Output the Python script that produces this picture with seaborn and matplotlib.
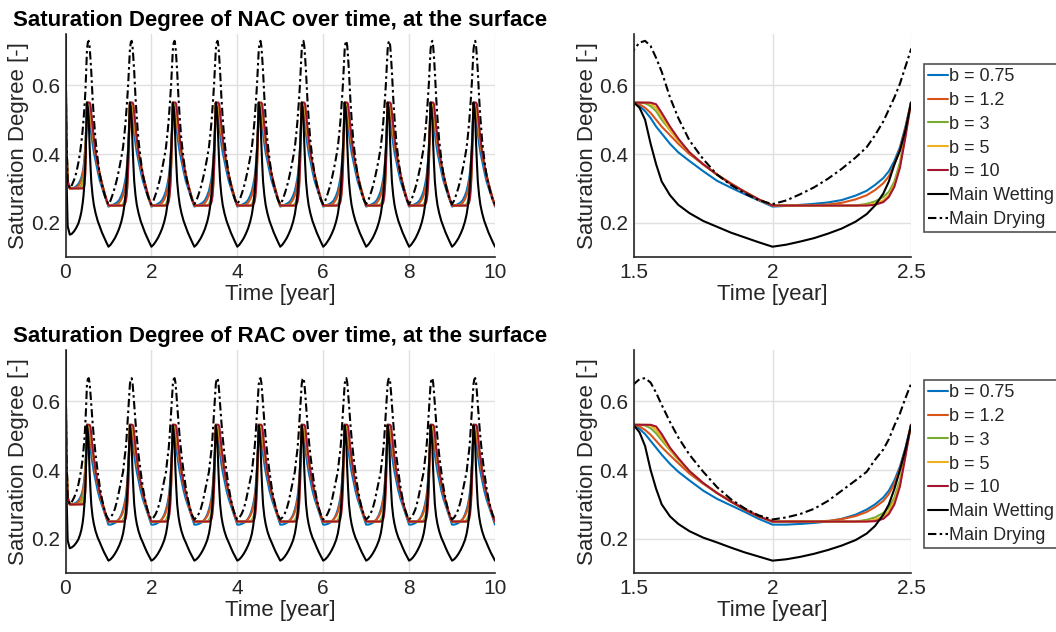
import numpy as np
import pandas as pd
import matplotlib
matplotlib.use("Agg")
import matplotlib.pyplot as plt
import seaborn as sns

# ---------------- data ----------------
series_labels = ["b = 0.75", "b = 1.2", "b = 3", "b = 5", "b = 10", "Main Wetting", "Main Drying"]
series_colors = ["#0072BD", "#D95319", "#77AC30", "#EDB120", "#A2142F", "#000000", "#000000"]

# first half year (t = 0 .. 0.5), initial transient
first_t = [0, 0.02, 0.05, 0.1, 0.15, 0.2, 0.25, 0.3, 0.34, 0.37, 0.4, 0.42, 0.44, 0.46, 0.48]

nac_first_b075 = [0.75, 0.45, 0.32, 0.30, 0.30, 0.302, 0.306, 0.313, 0.322, 0.332, 0.347, 0.362, 0.385, 0.42, 0.475]
nac_first_b12 = [0.75, 0.45, 0.32, 0.30, 0.30, 0.30, 0.302, 0.307, 0.315, 0.325, 0.34, 0.355, 0.38, 0.415, 0.47]
nac_first_b3 = [0.75, 0.45, 0.32, 0.30, 0.30, 0.30, 0.30, 0.30, 0.303, 0.308, 0.318, 0.33, 0.355, 0.395, 0.46]
nac_first_b5 = [0.75, 0.45, 0.32, 0.30, 0.30, 0.30, 0.30, 0.30, 0.30, 0.301, 0.305, 0.313, 0.325, 0.35, 0.455]
nac_first_b10 = [0.75, 0.45, 0.32, 0.30, 0.30, 0.30, 0.30, 0.30, 0.30, 0.30, 0.30, 0.302, 0.31, 0.34, 0.45]
nac_first_wet = [0.75, 0.35, 0.19, 0.165, 0.168, 0.175, 0.185, 0.198, 0.215, 0.232, 0.257, 0.28, 0.315, 0.37, 0.45]
nac_first_dry = [0.75, 0.45, 0.32, 0.30, 0.31, 0.325, 0.345, 0.375, 0.405, 0.435, 0.47, 0.50, 0.535, 0.575, 0.635]

rac_first_b075 = [0.75, 0.45, 0.32, 0.30, 0.30, 0.302, 0.305, 0.311, 0.319, 0.328, 0.341, 0.355, 0.375, 0.405, 0.455]
rac_first_b12 = [0.75, 0.45, 0.32, 0.30, 0.30, 0.30, 0.302, 0.306, 0.313, 0.322, 0.336, 0.35, 0.372, 0.402, 0.452]
rac_first_b3 = [0.75, 0.45, 0.32, 0.30, 0.30, 0.30, 0.30, 0.30, 0.302, 0.307, 0.316, 0.328, 0.35, 0.385, 0.445]
rac_first_b5 = [0.75, 0.45, 0.32, 0.30, 0.30, 0.30, 0.30, 0.30, 0.30, 0.30, 0.303, 0.31, 0.322, 0.345, 0.44]
rac_first_b10 = [0.75, 0.45, 0.32, 0.30, 0.30, 0.30, 0.30, 0.30, 0.30, 0.30, 0.30, 0.301, 0.307, 0.335, 0.435]
rac_first_wet = [0.75, 0.35, 0.195, 0.172, 0.175, 0.18, 0.188, 0.198, 0.212, 0.226, 0.247, 0.268, 0.30, 0.345, 0.42]
rac_first_dry = [0.75, 0.45, 0.32, 0.30, 0.308, 0.32, 0.335, 0.358, 0.383, 0.405, 0.435, 0.46, 0.49, 0.53, 0.585]

# one yearly cycle, offsets measured from the peak at t = k + 0.5 (read on the 1.5..2.5 panels)
cycle_offset = [0, 0.02, 0.04, 0.06, 0.08, 0.1, 0.13, 0.16, 0.2, 0.25, 0.3, 0.35, 0.4, 0.45, 0.5,
                0.55, 0.6, 0.65, 0.7, 0.75, 0.8, 0.84, 0.87, 0.9, 0.92, 0.94, 0.96, 0.98, 1.0]

nac_cycle_b075 = [0.55, 0.54, 0.525, 0.505, 0.48, 0.46, 0.43, 0.405, 0.38, 0.35, 0.322, 0.302, 0.283, 0.265, 0.247,
                  0.249, 0.252, 0.255, 0.259, 0.266, 0.279, 0.293, 0.31, 0.33, 0.35, 0.38, 0.42, 0.48, 0.55]
nac_cycle_b12 = [0.55, 0.545, 0.535, 0.52, 0.50, 0.48, 0.455, 0.43, 0.40, 0.37, 0.34, 0.315, 0.29, 0.268, 0.25,
                 0.25, 0.25, 0.251, 0.253, 0.258, 0.268, 0.28, 0.295, 0.315, 0.335, 0.37, 0.415, 0.475, 0.55]
nac_cycle_b3 = [0.55, 0.55, 0.548, 0.54, 0.525, 0.50, 0.47, 0.44, 0.405, 0.37, 0.34, 0.313, 0.29, 0.268, 0.25,
                0.25, 0.25, 0.25, 0.25, 0.25, 0.25, 0.255, 0.262, 0.275, 0.29, 0.32, 0.375, 0.46, 0.55]
nac_cycle_b5 = [0.55, 0.55, 0.55, 0.547, 0.535, 0.51, 0.47, 0.44, 0.405, 0.37, 0.34, 0.313, 0.29, 0.268, 0.25,
                0.25, 0.25, 0.25, 0.25, 0.25, 0.25, 0.251, 0.256, 0.265, 0.28, 0.31, 0.365, 0.455, 0.55]
nac_cycle_b10 = [0.55, 0.55, 0.55, 0.55, 0.545, 0.52, 0.48, 0.445, 0.405, 0.37, 0.34, 0.313, 0.29, 0.268, 0.25,
                 0.25, 0.25, 0.25, 0.25, 0.25, 0.25, 0.25, 0.252, 0.26, 0.275, 0.305, 0.36, 0.45, 0.55]
nac_cycle_wet = [0.55, 0.535, 0.50, 0.43, 0.37, 0.32, 0.28, 0.252, 0.228, 0.205, 0.188, 0.171, 0.157, 0.143, 0.13,
                 0.136, 0.145, 0.155, 0.168, 0.183, 0.203, 0.225, 0.25, 0.285, 0.32, 0.37, 0.41, 0.47, 0.55]
nac_cycle_dry = [0.705, 0.725, 0.73, 0.715, 0.68, 0.64, 0.565, 0.505, 0.44, 0.385, 0.34, 0.31, 0.285, 0.266, 0.254,
                 0.265, 0.283, 0.303, 0.328, 0.357, 0.39, 0.42, 0.455, 0.495, 0.53, 0.565, 0.605, 0.655, 0.705]

rac_cycle_b075 = [0.532, 0.52, 0.505, 0.485, 0.465, 0.445, 0.418, 0.395, 0.37, 0.34, 0.316, 0.297, 0.278, 0.258, 0.241,
                  0.241, 0.243, 0.246, 0.25, 0.258, 0.27, 0.285, 0.30, 0.32, 0.34, 0.37, 0.41, 0.465, 0.532]
rac_cycle_b12 = [0.532, 0.527, 0.517, 0.503, 0.485, 0.467, 0.443, 0.42, 0.39, 0.36, 0.333, 0.31, 0.287, 0.266, 0.249,
                 0.25, 0.25, 0.25, 0.252, 0.257, 0.266, 0.278, 0.292, 0.31, 0.33, 0.36, 0.405, 0.46, 0.532]
rac_cycle_b3 = [0.532, 0.532, 0.53, 0.522, 0.507, 0.487, 0.458, 0.43, 0.397, 0.362, 0.333, 0.308, 0.285, 0.265, 0.25,
                0.25, 0.25, 0.25, 0.25, 0.25, 0.25, 0.255, 0.262, 0.275, 0.29, 0.32, 0.37, 0.45, 0.532]
rac_cycle_b5 = [0.532, 0.532, 0.532, 0.53, 0.517, 0.495, 0.46, 0.432, 0.397, 0.362, 0.333, 0.308, 0.285, 0.265, 0.25,
                0.25, 0.25, 0.25, 0.25, 0.25, 0.25, 0.251, 0.255, 0.265, 0.28, 0.31, 0.36, 0.445, 0.532]
rac_cycle_b10 = [0.532, 0.532, 0.532, 0.532, 0.527, 0.505, 0.465, 0.435, 0.397, 0.362, 0.333, 0.308, 0.285, 0.265, 0.25,
                 0.25, 0.25, 0.25, 0.25, 0.25, 0.25, 0.25, 0.251, 0.258, 0.272, 0.30, 0.352, 0.44, 0.532]
rac_cycle_wet = [0.53, 0.51, 0.47, 0.40, 0.345, 0.30, 0.265, 0.243, 0.222, 0.203, 0.189, 0.174, 0.16, 0.148, 0.136,
                 0.14, 0.147, 0.156, 0.167, 0.18, 0.196, 0.215, 0.237, 0.27, 0.30, 0.345, 0.40, 0.46, 0.53]
rac_cycle_dry = [0.651, 0.665, 0.668, 0.655, 0.625, 0.59, 0.54, 0.495, 0.445, 0.395, 0.35, 0.315, 0.288, 0.268, 0.256,
                 0.262, 0.272, 0.287, 0.31, 0.34, 0.37, 0.395, 0.43, 0.46, 0.49, 0.53, 0.565, 0.61, 0.653]

n_years = 10
x_ticks_full = [0, 2, 4, 6, 8, 10]
x_ticks_zoom = [1.5, 2, 2.5]
y_ticks = [0.2, 0.4, 0.6]
titles = ["Saturation Degree of NAC over time, at the surface",
          "Saturation Degree of RAC over time, at the surface"]


def build_series(first_vals, cycle_vals):
    t = list(first_t)
    v = list(first_vals)
    for k in range(n_years):
        for o, val in zip(cycle_offset[:-1], cycle_vals[:-1]):
            tt = 0.5 + k + o
            if tt <= n_years + 1e-9:
                t.append(round(tt, 6))
                v.append(val)
    return t, v


def build_frame(firsts, cycles):
    frames = []
    for lab, f, c in zip(series_labels, firsts, cycles):
        t, v = build_series(f, c)
        frames.append(pd.DataFrame({"t": t, "S": v, "series": lab}))
    return pd.concat(frames, ignore_index=True)


df_nac = build_frame(
    [nac_first_b075, nac_first_b12, nac_first_b3, nac_first_b5, nac_first_b10, nac_first_wet, nac_first_dry],
    [nac_cycle_b075, nac_cycle_b12, nac_cycle_b3, nac_cycle_b5, nac_cycle_b10, nac_cycle_wet, nac_cycle_dry])
df_rac = build_frame(
    [rac_first_b075, rac_first_b12, rac_first_b3, rac_first_b5, rac_first_b10, rac_first_wet, rac_first_dry],
    [rac_cycle_b075, rac_cycle_b12, rac_cycle_b3, rac_cycle_b5, rac_cycle_b10, rac_cycle_wet, rac_cycle_dry])

# ---------------- style ----------------
sns.set_style("whitegrid")
plt.rcParams["font.family"] = ["Liberation Sans", "DejaVu Sans"]
plt.rcParams["axes.edgecolor"] = "#262626"
plt.rcParams["xtick.color"] = "#262626"
plt.rcParams["ytick.color"] = "#262626"
plt.rcParams["grid.color"] = "#e0e0e0"
plt.rcParams["grid.linewidth"] = 1.0

palette = dict(zip(series_labels, series_colors))
dashes = {lab: "" for lab in series_labels}
dashes["Main Drying"] = (4, 1.6, 1.2, 1.6)

W, H = 1056, 632
fig = plt.figure(figsize=(W / 100, H / 100), dpi=100)


def px_axes(x0, x1, y0, y1):
    return [x0 / W, 1 - y1 / H, (x1 - x0) / W, (y1 - y0) / H]


positions = [
    px_axes(65.5, 495, 34, 257), px_axes(634, 911, 34, 257),
    px_axes(65.5, 495, 350, 573), px_axes(634, 911, 350, 573),
]
axes = [fig.add_axes(p) for p in positions]

lw = 1.5
for row, df in enumerate([df_nac, df_rac]):
    for col in range(2):
        ax = axes[row * 2 + col]
        sub = df if col == 0 else df[(df["t"] >= 1.4) & (df["t"] <= 2.6)]
        sns.lineplot(data=sub, x="t", y="S", hue="series", style="series",
                     hue_order=series_labels, style_order=series_labels,
                     palette=palette, dashes=dashes, estimator=None, sort=True,
                     linewidth=lw, legend=False, ax=ax)
        ax.set_ylim(0.1, 0.75)
        ax.set_yticks(y_ticks)
        ax.set_yticklabels([f"{v:g}" for v in y_ticks])
        if col == 0:
            ax.set_xlim(0, n_years)
            ax.set_xticks(x_ticks_full)
            ax.set_xticklabels([f"{v:g}" for v in x_ticks_full])
            ax.set_title(titles[row], fontsize=16, fontweight="bold", color="black", pad=6)
        else:
            ax.set_xlim(1.5, 2.5)
            ax.set_xticks(x_ticks_zoom)
            ax.set_xticklabels([f"{v:g}" for v in x_ticks_zoom])
        ax.set_xlabel("Time [year]", fontsize=16, color="#262626", labelpad=2)
        ax.set_ylabel("Saturation Degree [-]", fontsize=16, color="#262626", labelpad=1)
        ax.tick_params(axis="both", labelsize=15, direction="in", length=4, width=0.8, pad=4)
        ax.grid(True, color="#e0e0e0", linewidth=1.0)
        ax.set_axisbelow(True)
        for s in ["top", "right"]:
            ax.spines[s].set_visible(False)
        for s in ["left", "bottom"]:
            ax.spines[s].set_linewidth(1.2)
            ax.spines[s].set_color("#262626")

        if col == 1:
            handles = ax.get_lines()[:len(series_labels)]
            anchor_y = 1 - 64 / H if row == 0 else 1 - 380 / H
            leg = fig.legend(handles, series_labels, loc="upper left",
                             bbox_to_anchor=(924 / W, anchor_y), fontsize=13,
                             frameon=True, fancybox=False, edgecolor="#262626",
                             handlelength=1.1, handletextpad=0.08, borderpad=0.22,
                             labelspacing=0.38, borderaxespad=0.0)
            leg.get_frame().set_linewidth(1.2)

fig.savefig("out.png", dpi=100)
